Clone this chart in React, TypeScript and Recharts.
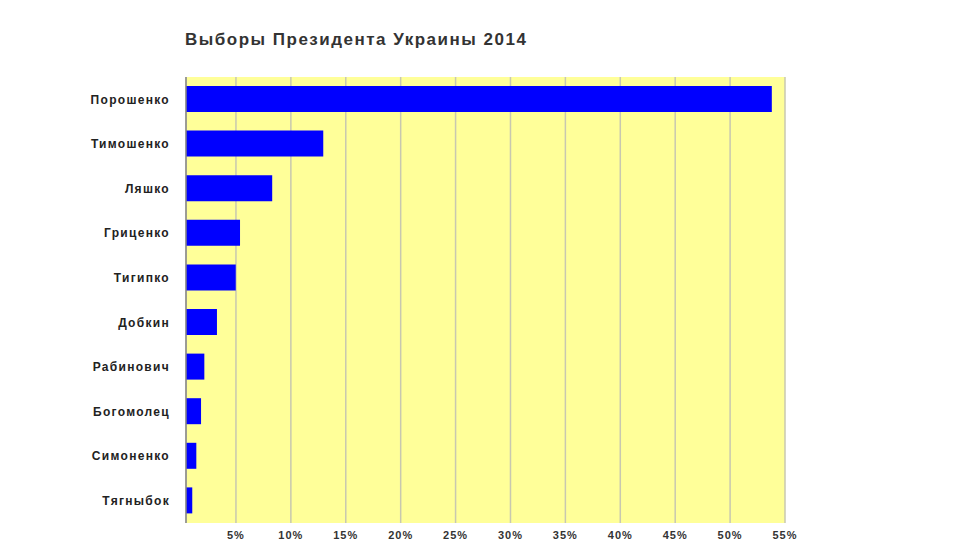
import { BarChart, Bar, XAxis, YAxis, CartesianGrid } from "recharts";

const candidates = [
  "Порошенко",
  "Тимошенко",
  "Ляшко",
  "Гриценко",
  "Тигипко",
  "Добкин",
  "Рабинович",
  "Богомолец",
  "Симоненко",
  "Тягныбок",
];

const votes = [53.8, 12.95, 8.3, 5.37, 4.98, 3.27, 2.12, 1.82, 1.39, 1.02];

const percentTicks = [5, 10, 15, 20, 25, 30, 35, 40, 45, 50, 55];

const data = candidates.map((name, i) => ({ name, value: votes[i] }));

const font = "'Liberation Sans', Arial, sans-serif";

const App = () => {
  return (
    <div
      style={{
        position: "absolute",
        left: 0,
        top: 0,
        width: 960,
        height: 540,
        background: "#ffffff",
        overflow: "hidden",
        fontFamily: font,
      }}
    >
      <div
        style={{
          position: "absolute",
          left: 185,
          top: 31,
          fontSize: 17,
          fontWeight: "bold",
          letterSpacing: 1.5,
          color: "#333333",
          lineHeight: 1,
        }}
      >
        Выборы Президента Украины 2014
      </div>

      <BarChart
        width={960}
        height={540}
        data={data}
        layout="vertical"
        margin={{ top: 77, right: 175, bottom: 0, left: 0 }}
      >
        <CartesianGrid
          horizontal={false}
          fill="#ffff99"
          fillOpacity={1}
          stroke="#c8c8b0"
          strokeWidth={1.5}
        />
        <XAxis
          type="number"
          domain={[0.45, 55]}
          ticks={percentTicks}
          tickFormatter={(v) => `${v}%`}
          height={17}
          axisLine={false}
          tickLine={false}
          tickSize={0}
          tickMargin={8}
          tick={{
            fill: "#333333",
            fontSize: 11,
            fontWeight: "bold",
            fontFamily: font,
            letterSpacing: 1,
          }}
        />
        <YAxis
          type="category"
          dataKey="name"
          width={186}
          axisLine={{ stroke: "#888888", strokeWidth: 1.5 }}
          tickLine={false}
          tickSize={0}
          tickMargin={16}
          interval={0}
          tick={{
            fill: "#222222",
            fontSize: 12,
            fontWeight: "bold",
            fontFamily: font,
            letterSpacing: 1.3,
          }}
        />
        <Bar
          dataKey="value"
          fill="#0000ff"
          barSize={26}
          isAnimationActive={false}
        />
      </BarChart>
    </div>
  );
};

export default App;
